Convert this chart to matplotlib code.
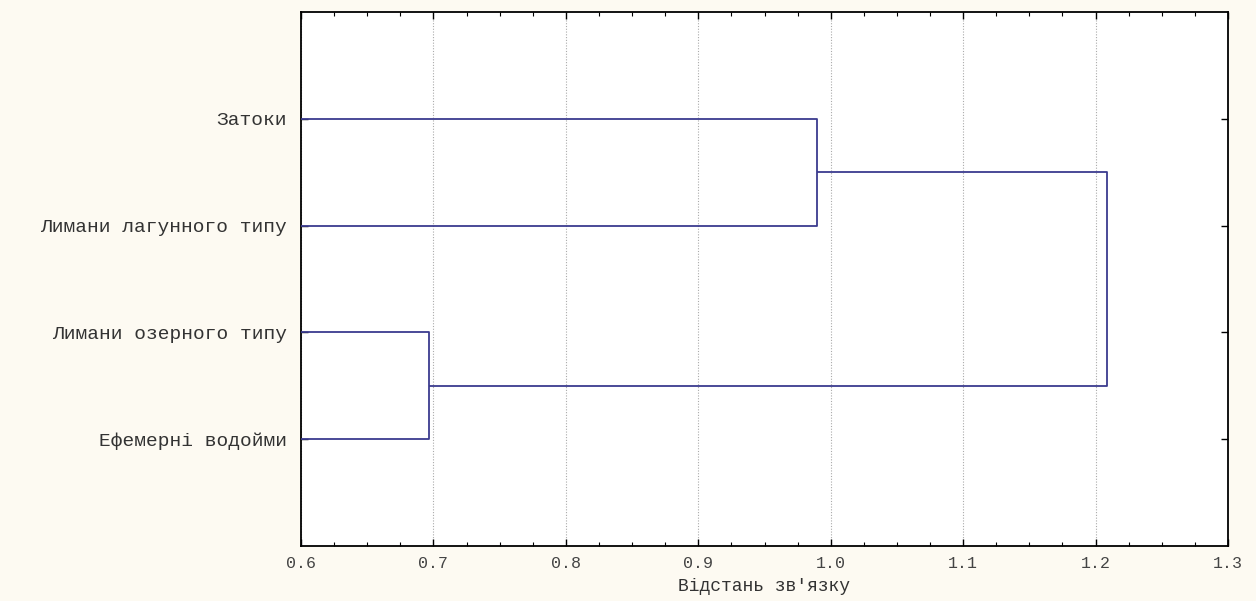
import matplotlib
matplotlib.use("Agg")
import matplotlib.pyplot as plt
from matplotlib.ticker import MultipleLocator

labels = ["Затоки", "Лимани лагунного типу", "Лимани озерного типу", "Ефемерні водойми"]
merge_dist_1 = 0.990   # Затоки + Лимани лагунного типу
merge_dist_2 = 0.697   # Лимани озерного типу + Ефемерні водойми
merge_dist_3 = 1.209   # final
x_min, x_max = 0.6, 1.3
xticks = [0.6, 0.7, 0.8, 0.9, 1.0, 1.1, 1.2, 1.3]
xlabel = "Відстань зв'язку"

fig = plt.figure(figsize=(12.56, 6.01), dpi=100, facecolor="#fdfaf2")
ax = fig.add_axes([301/1256, 1-546/601, (1228-301)/1256, (546-12)/601])
ax.set_facecolor("white")

col = "#3b3b8f"
lw = 1.3
ypos = [1, 2, 3, 4]

def link(ya, xa, yb, xb, d):
    ax.plot([xa, d, d, xb], [ya, ya, yb, yb], color=col, lw=lw, solid_capstyle="butt", zorder=3)

link(ypos[0], x_min, ypos[1], x_min, merge_dist_1)
link(ypos[2], x_min, ypos[3], x_min, merge_dist_2)
link((ypos[0]+ypos[1])/2, merge_dist_1, (ypos[2]+ypos[3])/2, merge_dist_2, merge_dist_3)

ax.set_xlim(x_min, x_max)
ax.set_ylim(5, 0)
ax.set_xticks(xticks)
ax.set_xticklabels([f"{v:.1f}" for v in xticks])
ax.xaxis.set_minor_locator(MultipleLocator(0.025))
ax.set_yticks(ypos)
ax.set_yticklabels(labels)

font = "Liberation Mono"
for t in ax.get_xticklabels():
    t.set_fontfamily(font)
    t.set_fontsize(12)
    t.set_color("#444444")
for t in ax.get_yticklabels():
    t.set_fontfamily(font)
    t.set_fontsize(14)
    t.set_color("#333333")
ax.set_xlabel(xlabel, fontfamily=font, fontsize=13, color="#333333", labelpad=5)

ax.tick_params(axis="x", which="major", direction="in", top=True, bottom=True, length=5, width=1, pad=7)
ax.tick_params(axis="x", which="minor", direction="in", top=True, bottom=True, length=3, width=0.8)
ax.tick_params(axis="y", which="major", direction="in", left=True, right=True, length=5, width=1, pad=10)

ax.grid(axis="x", which="major", linestyle=(0, (1, 1.5)), color="#aaaaaa", lw=0.8, zorder=0)
for s in ax.spines.values():
    s.set_linewidth(1.3)
    s.set_color("black")

fig.savefig("out.png", dpi=100, facecolor=fig.get_facecolor())
